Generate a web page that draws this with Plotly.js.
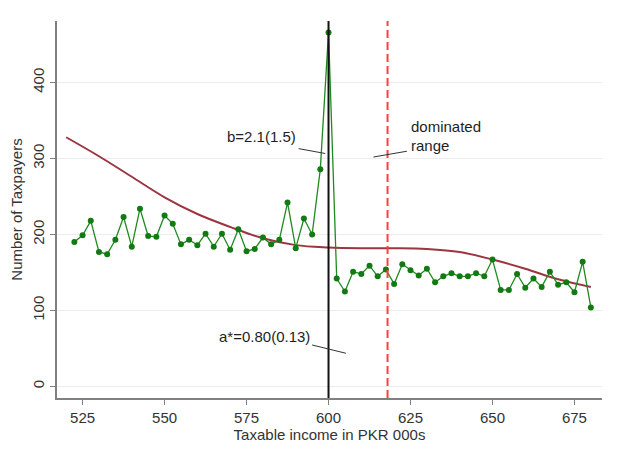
<!DOCTYPE html>
<html>
<head>
<meta charset="utf-8">
<script src="https://cdn.plot.ly/plotly-3.0.1.min.js"></script>
<style>html,body{margin:0;padding:0;background:#fff;}#chart{width:618px;height:455px;}</style>
</head>
<body>
<div id="chart"></div>
<script>
// Binned taxable income (PKR 000s), bin width 2.5
const incomeBins = [522.5, 525, 527.5, 530, 532.5, 535, 537.5, 540, 542.5, 545, 547.5, 550,
  552.5, 555, 557.5, 560, 562.5, 565, 567.5, 570, 572.5, 575, 577.5, 580, 582.5, 585,
  587.5, 590, 592.5, 595, 597.5, 600, 602.5, 605, 607.5, 610, 612.5, 615, 617.5, 620,
  622.5, 625, 627.5, 630, 632.5, 635, 637.5, 640, 642.5, 645, 647.5, 650, 652.5, 655,
  657.5, 660, 662.5, 665, 667.5, 670, 672.5, 675, 677.5, 680];
// Observed number of taxpayers per bin
const taxpayers = [190, 199, 218, 177, 174, 193, 223, 184, 234, 198, 197, 225,
  214, 187, 193, 186, 201, 184, 201, 180, 207, 178, 181, 196, 187, 193,
  242, 182, 221, 200, 286, 466, 142, 125, 151, 148, 159, 145, 154, 135,
  161, 153, 146, 155, 137, 145, 149, 145, 145, 149, 145, 167, 127, 127,
  148, 130, 142, 131, 151, 134, 137, 124, 164, 104];
// Counterfactual (fitted) density
const cfIncome = [520, 530, 540, 550, 560, 570, 580, 590, 600, 610, 620, 630, 640, 650, 660, 670, 680];
const cfCount  = [328, 303, 276, 249, 227, 210, 195, 186, 183, 182, 182, 181, 177, 167, 155, 141, 131];
// Reference lines
const kinkX = 600;
const dominatedX = 618;
const xTicks = [525, 550, 575, 600, 625, 650, 675];
const yTicks = [0, 100, 200, 300, 400];
const xRange = [517.2, 683.4];
const yRange = [-15.2, 481];

const labelFont = {family: 'Liberation Sans, Arial, sans-serif', size: 15, color: '#1e1e1e'};
const leaderStyle = {color: '#333333', width: 1};

const traces = [
  {
    x: cfIncome, y: cfCount, type: 'scatter', mode: 'lines',
    line: {color: '#9b3540', width: 2, shape: 'spline', smoothing: 1.0},
    hoverinfo: 'skip', showlegend: false
  },
  {
    x: incomeBins, y: taxpayers, type: 'scatter', mode: 'lines+markers',
    line: {color: '#1f8a1f', width: 1.3},
    marker: {color: '#137a13', size: 6},
    showlegend: false
  }
];

const layout = {
  width: 618, height: 455,
  margin: {l: 57, r: 16, t: 21, b: 57, pad: 0},
  paper_bgcolor: '#ffffff', plot_bgcolor: '#ffffff',
  font: {family: 'Liberation Sans, Arial, sans-serif', size: 15, color: '#333333'},
  showlegend: false,
  xaxis: {
    range: xRange, tickvals: xTicks, ticktext: xTicks.map(String),
    showgrid: false, zeroline: false,
    showline: true, linecolor: '#808080', linewidth: 2,
    ticks: 'outside', ticklen: 5, tickcolor: '#808080', tickwidth: 1.5,
    tickfont: {size: 15, color: '#333333'},
    title: {text: 'Taxable income in PKR 000s', font: {size: 15, color: '#333333'}, standoff: 4}
  },
  yaxis: {
    range: yRange, tickvals: yTicks, ticktext: yTicks.map(String), tickangle: -90,
    showgrid: true, gridcolor: '#ececec', gridwidth: 1.5, zeroline: false,
    showline: true, linecolor: '#808080', linewidth: 2,
    ticks: 'outside', ticklen: 5, tickcolor: '#808080', tickwidth: 1.5,
    tickfont: {size: 15, color: '#333333'},
    title: {text: 'Number of Taxpayers', font: {size: 15, color: '#333333'}, standoff: 4}
  },
  shapes: [
    {type: 'line', xref: 'x', yref: 'paper', x0: kinkX, x1: kinkX, y0: 0, y1: 1,
     line: {color: '#111111', width: 2}},
    {type: 'line', xref: 'x', yref: 'paper', x0: dominatedX, x1: dominatedX, y0: 0, y1: 1,
     line: {color: '#ff4040', width: 2, dash: '8px,4px'}},
    {type: 'line', xref: 'x', yref: 'y', x0: 590.9, y0: 313, x1: 599, y1: 306.6, line: leaderStyle},
    {type: 'line', xref: 'x', yref: 'y', x0: 623.9, y0: 309.6, x1: 613.7, y1: 302, line: leaderStyle},
    {type: 'line', xref: 'x', yref: 'y', x0: 595, y0: 54.6, x1: 605.3, y1: 43.7, line: leaderStyle}
  ],
  annotations: [
    {x: 579.5, y: 328.8, xref: 'x', yref: 'y', text: 'b=2.1(1.5)', showarrow: false,
     xanchor: 'center', yanchor: 'middle', font: labelFont},
    {x: 624.4, y: 341.8, xref: 'x', yref: 'y', text: 'dominated', showarrow: false,
     xanchor: 'left', yanchor: 'middle', font: labelFont},
    {x: 624.4, y: 317.6, xref: 'x', yref: 'y', text: 'range', showarrow: false,
     xanchor: 'left', yanchor: 'middle', font: labelFont},
    {x: 580.4, y: 65.3, xref: 'x', yref: 'y', text: 'a*=0.80(0.13)', showarrow: false,
     xanchor: 'center', yanchor: 'middle', font: labelFont}
  ]
};

Plotly.newPlot('chart', traces, layout, {displayModeBar: false, staticPlot: true});
</script>
</body>
</html>
